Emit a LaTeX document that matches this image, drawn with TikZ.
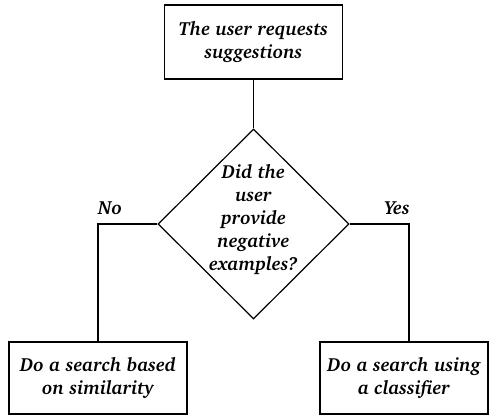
\documentclass[tikz,border=0pt]{standalone}
\usepackage[T1]{fontenc}
\usepackage{charter}
\usetikzlibrary{shapes.geometric}
\begin{document}
\begin{tikzpicture}[x=1pt,y=-1pt,
  txt/.style={font=\fontsize{19}{23}\selectfont\bfseries\itshape, align=center},
  box/.style={draw, line width=1.2pt, inner sep=0pt, txt},
  lbl/.style={font=\fontsize{19}{22}\selectfont\bfseries\itshape, inner sep=0pt},
  conn/.style={line width=1.2pt}]
\useasboundingbox (0,0) rectangle (490,416);
\node[box, minimum width=178, minimum height=74] (top) at (253.5,42) {The user requests\\suggestions};
\node[draw, diamond, line width=1.2pt, inner sep=0pt, minimum width=191, minimum height=190] (q) at (253.5,224) {};
\node[txt] (qt) at (253.5,219) {Did the\\user\\provide\\negative\\examples?};
\node[box, minimum width=178, minimum height=72] (left) at (98,378) {Do a search based\\on similarity};
\node[box, minimum width=168, minimum height=72] (right) at (404,378) {Do a search using\\a classifier};
\draw[conn] (top.south) -- (q.north);
\draw[conn] (q.west) -| (left.north);
\draw[conn] (q.east) -| ([xshift=5pt]right.north);
\node[lbl] (no) at (110,208) {No};
\node[lbl] (yes) at (397,208) {Yes};
\end{tikzpicture}
\end{document}
